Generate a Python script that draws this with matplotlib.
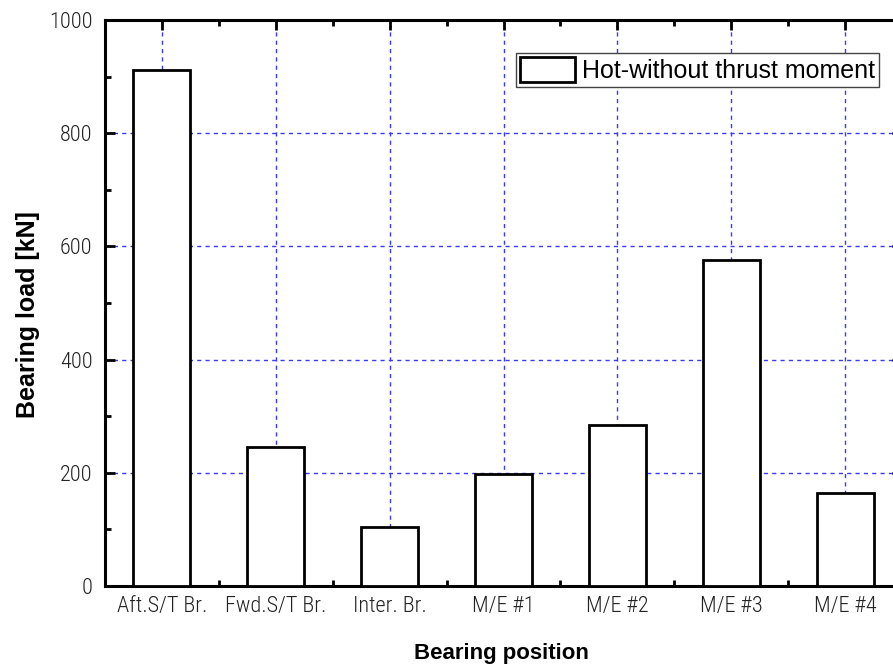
import numpy as np
import matplotlib
matplotlib.use("Agg")
from matplotlib import pyplot as plt
from matplotlib.ticker import MultipleLocator, FixedLocator

# Нагрузки на подшипники (горячее состояние, без упорного момента)
positions = ["Aft.S/T Br.", "Fwd.S/T Br.", "Inter. Br.", "M/E #1", "M/E #2", "M/E #3", "M/E #4"]
loads = [912, 245, 104, 197, 284, 576, 164]
series_name = "Hot-without thrust moment"

plt.rcParams['font.family'] = ['Liberation Sans', 'DejaVu Sans']
narrow = ['Roboto Condensed', 'Liberation Sans', 'DejaVu Sans']

fig = plt.figure(figsize=(8.93, 6.7), dpi=100)
# правая граница осей уходит чуть за край рисунка
ax = fig.add_axes([105 / 893, 1 - 586 / 670, 797 / 893, 566 / 670])

x = np.arange(len(positions))
ax.bar(x, loads, width=0.5, color="white", edgecolor="black", linewidth=2,
       label=series_name, zorder=3)

ax.set_xlim(-0.5, 6.5)
ax.set_ylim(0, 1000)
ax.set_xticks(x)
ax.set_xticklabels(positions)
ax.xaxis.set_minor_locator(FixedLocator(x[:-1] + 0.5))
ax.yaxis.set_major_locator(MultipleLocator(200))
ax.yaxis.set_minor_locator(MultipleLocator(100))

ax.tick_params(which="both", direction="in", top=True, right=True, width=2)
ax.tick_params(which="major", length=7.5, labelsize=16)
ax.tick_params(axis="y", which="major", pad=9)
ax.tick_params(axis="x", which="major", pad=7)
ax.tick_params(which="minor", length=4)
for lbl in ax.get_xticklabels() + ax.get_yticklabels():
    lbl.set_family(narrow)
    lbl.set_fontweight(300)
    lbl.set_color("#222222")
for s in ax.spines.values():
    s.set_linewidth(2.2)

ax.grid(True, which="major", color="#3a3aff", linestyle=(0, (3, 3)), linewidth=1, zorder=0)
ax.set_axisbelow(True)

ax.set_xlabel("Bearing position", fontsize=16, fontweight="bold")
ax.set_ylabel("Bearing load [kN]", fontsize=18, fontweight="bold")
ax.xaxis.set_label_coords(0.498, -0.101)
ax.yaxis.set_label_coords(-0.082, 0.479)

leg = ax.legend(loc="upper right", bbox_to_anchor=(879 / 893, 1 - 53 / 670),
                bbox_transform=fig.transFigure, borderaxespad=0,
                fancybox=False, framealpha=1, edgecolor="#444444",
                prop={"size": 18},
                handlelength=2.2, handleheight=1.2, handletextpad=0.3,
                borderpad=0.15)
leg.get_frame().set_linewidth(1)

fig.savefig("out.png", dpi=100)
